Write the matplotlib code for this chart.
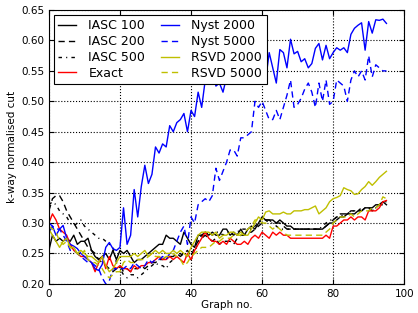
import numpy as np
import matplotlib
matplotlib.use('Agg')
import matplotlib.pyplot as plt

rcParams = {'font.size': 7.5, 'font.family': 'DejaVu Sans',
            'xtick.direction': 'in', 'ytick.direction': 'in',
            'xtick.top': True, 'ytick.right': True,
            'axes.unicode_minus': False}
plt.rcParams.update(rcParams)

graph_no = np.arange(96)

iasc100 = [0.255, 0.28, 0.27, 0.275, 0.27, 0.275, 0.27, 0.28, 0.265, 0.27,
           0.27, 0.275, 0.255, 0.245, 0.24, 0.245, 0.25, 0.24, 0.255, 0.24,
           0.255, 0.25, 0.255, 0.245, 0.235, 0.24, 0.24, 0.245, 0.25, 0.255,
           0.26, 0.265, 0.265, 0.28, 0.275, 0.275, 0.27, 0.265, 0.285, 0.275,
           0.265, 0.26, 0.28, 0.28, 0.285, 0.28, 0.285, 0.28, 0.28, 0.29,
           0.29, 0.28, 0.285, 0.28, 0.29, 0.28, 0.29, 0.295, 0.29, 0.30,
           0.31, 0.305, 0.305, 0.305, 0.30, 0.305, 0.30, 0.295, 0.295, 0.29,
           0.29, 0.29, 0.29, 0.29, 0.29, 0.29, 0.29, 0.29, 0.295, 0.30,
           0.30, 0.305, 0.31, 0.31, 0.315, 0.315, 0.315, 0.32, 0.32, 0.325,
           0.325, 0.325, 0.33, 0.33, 0.335, 0.33]
iasc200 = [0.32, 0.34, 0.345, 0.345, 0.335, 0.32, 0.31, 0.30, 0.29, 0.28,
           0.27, 0.26, 0.255, 0.25, 0.24, 0.235, 0.23, 0.225, 0.22, 0.225,
           0.23, 0.22, 0.225, 0.22, 0.225, 0.225, 0.23, 0.225, 0.23, 0.235,
           0.235, 0.24, 0.24, 0.245, 0.245, 0.245, 0.25, 0.245, 0.25, 0.255,
           0.245, 0.26, 0.27, 0.275, 0.28, 0.275, 0.27, 0.275, 0.265, 0.27,
           0.27, 0.27, 0.265, 0.275, 0.28, 0.28, 0.285, 0.285, 0.29, 0.295,
           0.30, 0.305, 0.305, 0.30, 0.30, 0.30, 0.295, 0.29, 0.29, 0.29,
           0.29, 0.29, 0.29, 0.29, 0.29, 0.29, 0.29, 0.29, 0.295, 0.30,
           0.305, 0.31, 0.315, 0.315, 0.315, 0.32, 0.32, 0.32, 0.32, 0.325,
           0.325, 0.32, 0.325, 0.33, 0.335, 0.335]
iasc500 = [0.33, 0.335, 0.33, 0.32, 0.315, 0.31, 0.30, 0.295, 0.30, 0.305,
           0.295, 0.29, 0.285, 0.28, 0.275, 0.275, 0.27, 0.265, 0.26, 0.235,
           0.225, 0.215, 0.21, 0.215, 0.215, 0.21, 0.215, 0.22, 0.225, 0.23,
           0.235, 0.23, 0.23, 0.225, 0.235, 0.24, 0.245, 0.25, 0.245, 0.245,
           0.24, 0.25, 0.27, 0.28, 0.28, 0.285, 0.28, 0.285, 0.285, 0.28,
           0.285, 0.285, 0.28, 0.285, 0.29, 0.29, 0.29, 0.29, 0.295, 0.30,
           0.305, 0.305, 0.30, 0.30, 0.295, 0.29, 0.29, 0.29, 0.29, 0.29,
           0.29, 0.29, 0.29, 0.29, 0.29, 0.29, 0.29, 0.295, 0.30, 0.305,
           0.305, 0.31, 0.31, 0.315, 0.315, 0.32, 0.32, 0.32, 0.325, 0.325,
           0.32, 0.325, 0.325, 0.33, 0.33, 0.33]
exact = [0.30, 0.315, 0.305, 0.29, 0.285, 0.28, 0.265, 0.255, 0.25, 0.245,
         0.245, 0.24, 0.235, 0.22, 0.235, 0.245, 0.225, 0.245, 0.23, 0.225,
         0.23, 0.225, 0.225, 0.22, 0.23, 0.225, 0.23, 0.23, 0.235, 0.235,
         0.24, 0.245, 0.24, 0.24, 0.245, 0.24, 0.245, 0.24, 0.235, 0.25,
         0.24, 0.255, 0.265, 0.275, 0.285, 0.275, 0.27, 0.27, 0.265, 0.27,
         0.265, 0.275, 0.27, 0.265, 0.265, 0.27, 0.265, 0.275, 0.28, 0.275,
         0.285, 0.28, 0.275, 0.285, 0.28, 0.285, 0.28, 0.28, 0.275, 0.275,
         0.275, 0.275, 0.275, 0.275, 0.275, 0.275, 0.275, 0.275, 0.28, 0.275,
         0.295, 0.295, 0.30, 0.305, 0.305, 0.31, 0.305, 0.31, 0.31, 0.305,
         0.32, 0.32, 0.32, 0.325, 0.335, 0.337]
nyst2000 = [0.284, 0.295, 0.28, 0.29, 0.296, 0.275, 0.265, 0.262, 0.258, 0.25,
            0.245, 0.24, 0.235, 0.225, 0.222, 0.232, 0.26, 0.268, 0.258, 0.255,
            0.26, 0.325, 0.265, 0.28, 0.355, 0.31, 0.36, 0.395, 0.365, 0.38,
            0.425, 0.415, 0.43, 0.425, 0.46, 0.45, 0.465, 0.47, 0.48, 0.45,
            0.485, 0.475, 0.515, 0.49, 0.535, 0.545, 0.56, 0.525, 0.53, 0.515,
            0.54, 0.55, 0.53, 0.535, 0.55, 0.56, 0.55, 0.56, 0.57, 0.575,
            0.58, 0.535, 0.58, 0.555, 0.53, 0.585, 0.58, 0.555, 0.602, 0.578,
            0.582, 0.565, 0.57, 0.555, 0.562, 0.587, 0.595, 0.568, 0.592, 0.57,
            0.58, 0.588, 0.584, 0.588, 0.58, 0.61, 0.62, 0.625, 0.629, 0.584,
            0.631, 0.612, 0.634, 0.633, 0.635, 0.628]
nyst5000 = [0.30, 0.295, 0.29, 0.29, 0.28, 0.27, 0.255, 0.255, 0.25, 0.245,
            0.24, 0.235, 0.235, 0.23, 0.225, 0.21, 0.20, 0.205, 0.225, 0.225,
            0.225, 0.225, 0.23, 0.225, 0.235, 0.23, 0.225, 0.23, 0.24, 0.235,
            0.24, 0.24, 0.245, 0.24, 0.25, 0.255, 0.27, 0.285, 0.295, 0.265,
            0.31, 0.30, 0.33, 0.335, 0.34, 0.335, 0.345, 0.39, 0.37, 0.385,
            0.40, 0.42, 0.42, 0.41, 0.44, 0.44, 0.445, 0.45, 0.50, 0.49,
            0.50, 0.485, 0.47, 0.47, 0.485, 0.47, 0.49, 0.51, 0.535, 0.49,
            0.495, 0.505, 0.52, 0.53, 0.515, 0.49, 0.53, 0.50, 0.535, 0.495,
            0.50, 0.535, 0.53, 0.525, 0.50, 0.535, 0.55, 0.54, 0.55, 0.535,
            0.575, 0.54, 0.56, 0.555, 0.55, 0.55]
rsvd2000 = [0.29, 0.28, 0.27, 0.26, 0.27, 0.275, 0.26, 0.26, 0.25, 0.255,
            0.25, 0.245, 0.245, 0.24, 0.235, 0.245, 0.23, 0.22, 0.225, 0.235,
            0.245, 0.245, 0.245, 0.245, 0.25, 0.245, 0.25, 0.255, 0.245, 0.25,
            0.255, 0.25, 0.255, 0.25, 0.25, 0.255, 0.25, 0.255, 0.25, 0.245,
            0.26, 0.27, 0.28, 0.285, 0.285, 0.285, 0.28, 0.285, 0.275, 0.28,
            0.28, 0.285, 0.285, 0.28, 0.285, 0.28, 0.28, 0.29, 0.30, 0.31,
            0.305, 0.318, 0.32, 0.315, 0.315, 0.315, 0.318, 0.315, 0.315, 0.32,
            0.32, 0.32, 0.322, 0.322, 0.325, 0.328, 0.315, 0.32, 0.325, 0.335,
            0.34, 0.342, 0.345, 0.358, 0.355, 0.353, 0.347, 0.348, 0.355, 0.36,
            0.368, 0.362, 0.368, 0.375, 0.38, 0.385]
rsvd5000 = [0.295, 0.29, 0.285, 0.27, 0.265, 0.27, 0.26, 0.255, 0.25, 0.245,
            0.255, 0.24, 0.235, 0.235, 0.23, 0.225, 0.215, 0.21, 0.215, 0.22,
            0.22, 0.235, 0.24, 0.235, 0.235, 0.24, 0.24, 0.24, 0.245, 0.25,
            0.245, 0.245, 0.24, 0.245, 0.245, 0.25, 0.245, 0.24, 0.23, 0.235,
            0.245, 0.25, 0.255, 0.26, 0.26, 0.26, 0.265, 0.27, 0.27, 0.275,
            0.275, 0.275, 0.28, 0.28, 0.28, 0.285, 0.29, 0.295, 0.305, 0.305,
            0.30, 0.30, 0.295, 0.29, 0.295, 0.29, 0.285, 0.28, 0.28, 0.28,
            0.28, 0.28, 0.28, 0.28, 0.28, 0.28, 0.28, 0.28, 0.285, 0.29,
            0.30, 0.305, 0.31, 0.31, 0.31, 0.315, 0.31, 0.315, 0.32, 0.32,
            0.32, 0.325, 0.325, 0.33, 0.343, 0.34]

dashed = (0, (4.5, 3))
dashdot = (0, (2.5, 3, 0.8, 3))
yellow = (0.75, 0.75, 0)

fig = plt.figure(figsize=(4.18, 3.13), dpi=100)
ax = fig.add_axes([0.117, 0.093, 0.850, 0.875])

ax.plot(graph_no, iasc100, color='k', lw=1, label='IASC 100')
ax.plot(graph_no, iasc200, color='k', lw=1, ls=dashed, label='IASC 200')
ax.plot(graph_no, iasc500, color='k', lw=1, ls=dashdot, label='IASC 500')
ax.plot(graph_no, exact, color='r', lw=1, label='Exact')
ax.plot(graph_no, nyst2000, color='b', lw=1, label='Nyst 2000')
ax.plot(graph_no, nyst5000, color='b', lw=1, ls=dashed, label='Nyst 5000')
ax.plot(graph_no, rsvd2000, color=yellow, lw=1, label='RSVD 2000')
ax.plot(graph_no, rsvd5000, color=yellow, lw=1, ls=dashed, label='RSVD 5000')

ax.set_xlim(0, 100)
ax.set_ylim(0.20, 0.65)
ax.set_xticks(np.arange(0, 101, 20))
ax.set_yticks(np.arange(0.20, 0.651, 0.05))
ax.yaxis.set_major_formatter(matplotlib.ticker.FormatStrFormatter('%.2f'))
ax.grid(True, color='k', linestyle=':', linewidth=0.8)
ax.set_xlabel('Graph no.', labelpad=1)
ax.set_ylabel('k-way normalised cut', labelpad=3)

leg = ax.legend(loc='upper left', ncol=2, fontsize=9, fancybox=False,
                framealpha=1, edgecolor='k', handlelength=1.4,
                handletextpad=1.0, borderpad=0.35,
                borderaxespad=0.4, labelspacing=0.22, columnspacing=1.3)
leg.get_frame().set_linewidth(0.8)

fig.savefig('out.png', dpi=100)
